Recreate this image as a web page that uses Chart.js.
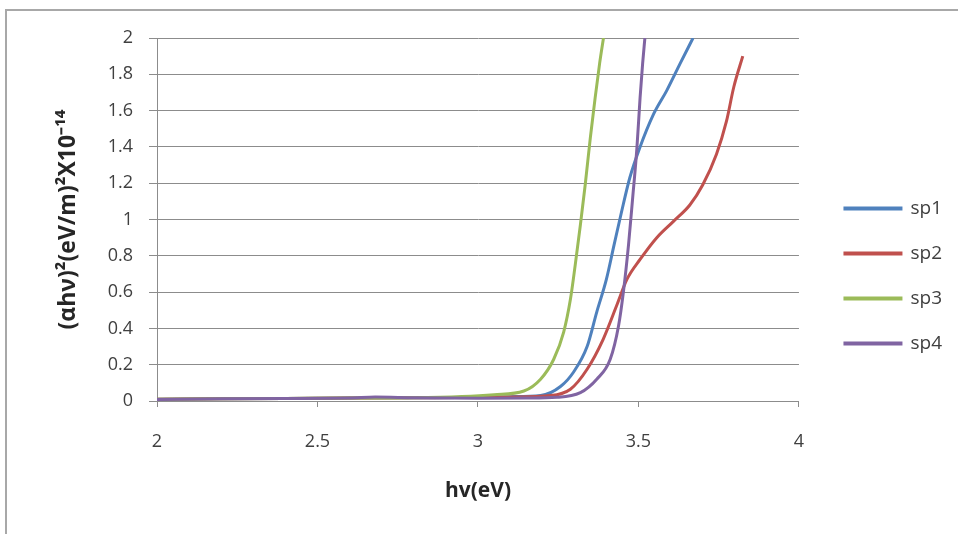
<!DOCTYPE html>
<html>
<head>
<meta charset="utf-8">
<script src="https://cdn.jsdelivr.net/npm/chart.js@4"></script>
<style>
  body { margin:0; background:#fff; }
  #wrap { position:relative; width:958px; height:534px; }
  #frame { position:absolute; left:5px; top:9px; right:0; bottom:0; border-left:2px solid #a8a8a8; border-top:2px solid #a8a8a8; }
  canvas { position:absolute; left:0; top:0; }
</style>
</head>
<body>
<div id="wrap">
  <div id="frame"></div>
  <canvas id="chart" width="958" height="534"></canvas>
</div>
<script>
// series: photon energy (eV) vs (αhν)² x10^-14
var names = ["sp1", "sp2", "sp3", "sp4"];
var colors = ["#4F81BD", "#C0504D", "#9BBB59", "#8064A2"];

var sp1X = [2.0, 2.2, 2.4, 2.6, 2.8, 3.0, 3.1, 3.195, 3.257, 3.298, 3.34, 3.37, 3.40, 3.424, 3.447, 3.473, 3.503, 3.547, 3.588, 3.63, 3.67];
var sp1Y = [0.01, 0.012, 0.014, 0.016, 0.018, 0.02, 0.024, 0.03, 0.08, 0.16, 0.30, 0.49, 0.67, 0.86, 1.04, 1.23, 1.39, 1.58, 1.71, 1.86, 2.0];

var sp2X = [2.0, 2.2, 2.4, 2.6, 2.8, 3.0, 3.1, 3.226, 3.288, 3.34, 3.39, 3.433, 3.464, 3.505, 3.557, 3.609, 3.66, 3.70, 3.743, 3.774, 3.797, 3.825];
var sp2Y = [0.01, 0.012, 0.014, 0.016, 0.018, 0.02, 0.022, 0.03, 0.065, 0.175, 0.34, 0.53, 0.67, 0.78, 0.90, 0.99, 1.08, 1.19, 1.36, 1.54, 1.73, 1.90];

var sp3X = [2.0, 2.2, 2.4, 2.6, 2.8, 2.95, 3.05, 3.143, 3.195, 3.236, 3.267, 3.288, 3.303, 3.319, 3.334, 3.35, 3.365, 3.379, 3.391];
var sp3Y = [0.01, 0.012, 0.014, 0.016, 0.018, 0.025, 0.035, 0.055, 0.12, 0.23, 0.38, 0.56, 0.75, 0.97, 1.19, 1.45, 1.67, 1.86, 2.0];

var sp4X = [2.0, 2.2, 2.4, 2.6, 2.68, 2.8, 3.0, 3.15, 3.246, 3.319, 3.37, 3.412, 3.438, 3.453, 3.469, 3.482, 3.495, 3.505, 3.513, 3.52];
var sp4Y = [0.008, 0.012, 0.014, 0.016, 0.022, 0.018, 0.015, 0.016, 0.02, 0.046, 0.12, 0.23, 0.415, 0.60, 0.86, 1.12, 1.39, 1.67, 1.86, 2.0];

var xTicks = [2, 2.5, 3, 3.5, 4];
var yTicks = [0, 0.2, 0.4, 0.6, 0.8, 1, 1.2, 1.4, 1.6, 1.8, 2];

function pts(xs, ys) {
  var out = [];
  for (var i = 0; i < xs.length; i++) out.push({x: xs[i], y: ys[i]});
  return out;
}

var allX = [sp1X, sp2X, sp3X, sp4X];
var allY = [sp1Y, sp2Y, sp3Y, sp4Y];
var ds = [];
for (var i = 0; i < names.length; i++) {
  ds.push({
    label: names[i],
    data: pts(allX[i], allY[i]),
    borderColor: colors[i],
    backgroundColor: colors[i],
    borderWidth: 3,
    pointRadius: 0,
    cubicInterpolationMode: 'monotone',
    order: names.length - i   // later series on top, like the original
  });
}

var fam = "'Open Sans', 'Liberation Sans', sans-serif";

new Chart(document.getElementById("chart"), {
  type: 'line',
  data: { datasets: ds },
  options: {
    responsive: false,
    animation: false,
    layout: { padding: { left: 14, top: 38, right: 6, bottom: 20 } },
    plugins: {
      legend: {
        position: 'right',
        labels: {
          boxWidth: 56,
          boxHeight: 1,
          padding: 26,
          color: '#404040',
          font: { family: fam, size: 19 },
          sort: function(a, b) { return a.datasetIndex - b.datasetIndex; }
        }
      },
      tooltip: { enabled: false }
    },
    scales: {
      x: {
        type: 'linear',
        min: 2, max: 4,
        afterBuildTicks: function(s) { s.ticks = xTicks.map(function(v) { return {value: v}; }); },
        grid: { drawOnChartArea: false, drawTicks: true, tickLength: 6, color: '#8c8c8c' },
        border: { color: '#8c8c8c', width: 1 },
        ticks: { padding: 24, color: '#404040', font: { family: fam, size: 18 }, callback: function(v) { return String(v); } },
        title: { display: true, text: 'hv(eV)', color: '#262626', font: { family: fam, size: 21, weight: 'bold' }, padding: { top: 0, bottom: 10 } },
        afterFit: function(s) { s.height = 113; }
      },
      y: {
        min: 0, max: 2,
        afterBuildTicks: function(s) { s.ticks = yTicks.map(function(v) { return {value: v}; }); },
        grid: { color: '#8c8c8c', tickLength: 8 },
        border: { color: '#8c8c8c', width: 1 },
        ticks: { padding: 16, color: '#404040', font: { family: fam, size: 18 }, callback: function(v) { return String(v); } },
        title: { display: true, text: '(\u03b1h\u03bd)\u00b2(eV/m)\u00b2X10\u207b\u00b9\u2074', color: '#262626', font: { family: fam, size: 23, weight: 'bold' }, padding: { top: 41, bottom: 0 } },
        afterFit: function(s) { s.width = 143; }
      },
      gap: {
        type: 'linear',
        position: 'right',
        axis: 'y',
        grid: { display: false },
        border: { display: false },
        ticks: { display: false },
        afterFit: function(s) { s.width = 20; }
      }
    }
  }
});
</script>
</body>
</html>
